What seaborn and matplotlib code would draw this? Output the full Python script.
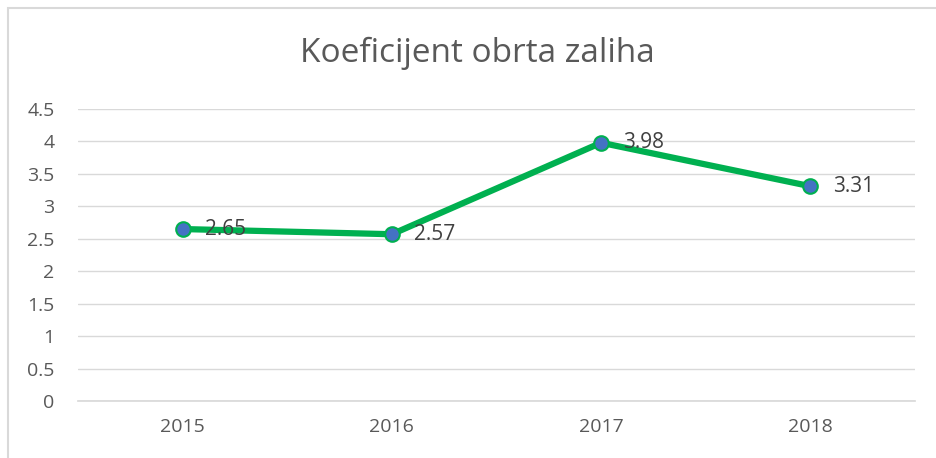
import matplotlib
matplotlib.use("Agg")
import matplotlib.pyplot as plt
import seaborn as sns
import pandas as pd
from matplotlib.patches import Rectangle

years = ["2015", "2016", "2017", "2018"]
values = [2.65, 2.57, 3.98, 3.31]
yticks = [0, 0.5, 1, 1.5, 2, 2.5, 3, 3.5, 4, 4.5]
title = "Koeficijent obrta zaliha"

sns.set_theme(style="white")
plt.rcParams['font.family'] = ['Open Sans', 'DejaVu Sans']

df = pd.DataFrame({"year": years, "value": values})

fig = plt.figure(figsize=(9.37, 4.58), dpi=100)
ax = fig.add_axes([78/937, 57/458, (915-78)/937, (401-109)/458])

fig.patches.append(Rectangle((8/937, -0.1), 1.2, (458-8)/458 + 0.1, transform=fig.transFigure,
                             fill=False, edgecolor="#D9D9D9", linewidth=1.5))

sns.lineplot(data=df, x="year", y="value", ax=ax, color="#00B050", linewidth=4.5,
             marker="o", markersize=10.5, markerfacecolor="#4472C4",
             markeredgecolor="#00B050", markeredgewidth=1.5, zorder=3)

for i, v in enumerate(values):
    ax.annotate(f"{v:g}", (i, v), xytext=(16, 0), textcoords="offset points",
                ha="left", va="center", fontsize=15, color="#404040", zorder=4)

ax.set_xlim(-0.5, 3.5)
ax.set_ylim(0, 4.5)
ax.set_yticks(yticks)
ax.set_yticklabels([f"{t:g}" for t in yticks])
ax.yaxis.grid(True, color="#D9D9D9", linewidth=1)
ax.set_axisbelow(True)
for s in ["top", "right", "left"]:
    ax.spines[s].set_visible(False)
ax.spines["bottom"].set_color("#D9D9D9")
ax.tick_params(axis="both", length=0, labelsize=14, labelcolor="#595959")
ax.tick_params(axis="x", pad=12)
ax.tick_params(axis="y", pad=17)
ax.set_xlabel("")
ax.set_ylabel("")
fig.text(477/937, 1 - 53/458, title, ha="center", va="center",
         fontsize=24, color="#595959")

fig.savefig("out.png", dpi=100)
